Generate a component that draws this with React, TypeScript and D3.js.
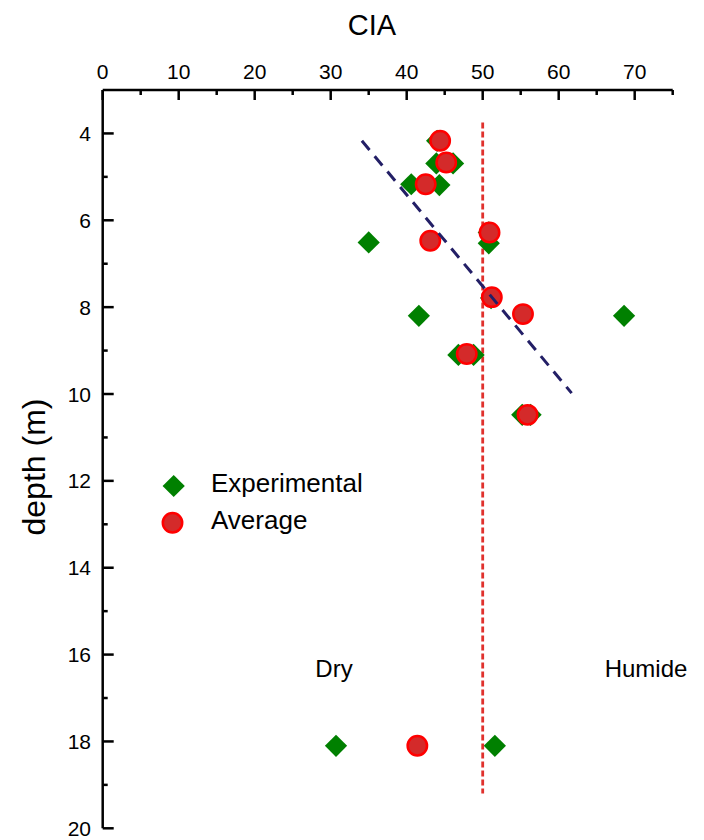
import React from "react";
import * as d3 from "d3";

const expCIA = [44.0, 43.9, 46.1, 40.6, 44.3, 35.0, 50.8, 50.8, 51.1, 41.6, 68.6, 46.8, 48.8, 55.2, 56.3, 30.7, 51.6];
const expDepth = [4.17, 4.69, 4.69, 5.17, 5.19, 6.51, 6.28, 6.53, 7.79, 8.2, 8.2, 9.1, 9.1, 10.48, 10.48, 18.1, 18.1];

const avgCIA = [44.4, 45.2, 42.5, 43.1, 50.9, 51.2, 55.3, 47.9, 55.9, 41.4];
const avgDepth = [4.17, 4.67, 5.17, 6.47, 6.28, 7.77, 8.16, 9.08, 10.48, 18.1];

const trendCIA = [34.1, 61.7];
const trendDepth = [4.17, 9.98];

const thresholdCIA = 50;
const thresholdDepth = [3.75, 19.2];

const xMajor = [0, 10, 20, 30, 40, 50, 60, 70];
const xMinor = [5, 15, 25, 35, 45, 55, 65, 75];
const yMajor = [4, 6, 8, 10, 12, 14, 16, 18, 20];
const yMinor = [5, 7, 9, 11, 13, 15, 17, 19];

const FONT = "'Liberation Sans', Arial, sans-serif";

export default function App() {
  const W = 704;
  const H = 840;
  const x = d3.scaleLinear().domain([0, 75]).range([102.7, 672.7]);
  const y = d3.scaleLinear().domain([3, 20]).range([90, 828.3]);

  const diamond = d3.symbol().type(d3.symbolDiamond2).size(315)();
  const line = d3
    .line<number>()
    .x((_, i) => x(trendCIA[i]))
    .y((_, i) => y(trendDepth[i]));

  const axisColor = "#000";
  const tickFont = 21;

  return (
    <svg
      width={W}
      height={H}
      style={{ position: "absolute", left: 0, top: 0, background: "#fff" }}
      fontFamily={FONT}
    >
      <rect x={0} y={0} width={W} height={H} fill="#fff" />
      {/* Title */}
      <text x={372} y={35} fontSize={29} textAnchor="middle" fill="#000">
        CIA
      </text>
      {/* Y label */}
      <text
        transform={`translate(45, 467) rotate(-90)`}
        fontSize={32}
        textAnchor="middle"
        fill="#000"
      >
        depth (m)
      </text>

      {/* top axis */}
      <line x1={x(0)} x2={x(75)} y1={y(3)} y2={y(3)} stroke={axisColor} strokeWidth={2.5} />
      {xMajor.map((v) => (
        <g key={"xm" + v}>
          <line x1={x(v)} x2={x(v)} y1={y(3)} y2={y(3) + 10} stroke={axisColor} strokeWidth={2.5} />
          <text x={x(v)} y={79} fontSize={tickFont} textAnchor="middle" fill="#000">
            {v}
          </text>
        </g>
      ))}
      {xMinor.map((v) => (
        <line key={"xn" + v} x1={x(v)} x2={x(v)} y1={y(3)} y2={y(3) + 5} stroke={axisColor} strokeWidth={2.5} />
      ))}

      {/* left axis */}
      <line x1={x(0)} x2={x(0)} y1={y(3)} y2={y(20)} stroke={axisColor} strokeWidth={2.5} />
      {yMajor.map((v) => (
        <g key={"ym" + v}>
          <line x1={x(0)} x2={x(0) + 11} y1={y(v)} y2={y(v)} stroke={axisColor} strokeWidth={2.5} />
          <text x={91} y={y(v)} dy="0.36em" fontSize={tickFont} textAnchor="end" fill="#000">
            {v}
          </text>
        </g>
      ))}
      {yMinor.map((v) => (
        <line key={"yn" + v} x1={x(0)} x2={x(0) + 5} y1={y(v)} y2={y(v)} stroke={axisColor} strokeWidth={2.5} />
      ))}

      {/* threshold line */}
      <line
        x1={x(thresholdCIA)}
        x2={x(thresholdCIA)}
        y1={y(thresholdDepth[0])}
        y2={y(thresholdDepth[1])}
        stroke="#e0312d"
        strokeWidth={2.8}
        strokeDasharray="6,3"
      />

      {/* experimental diamonds */}
      {expCIA.map((v, i) => (
        <path key={"e" + i} d={diamond || ""} transform={`translate(${x(v)},${y(expDepth[i])})`} fill="#008000" />
      ))}

      {/* averages */}
      {avgCIA.map((v, i) => (
        <circle key={"a" + i} cx={x(v)} cy={y(avgDepth[i])} r={9.7} fill="#d42a2a" stroke="#ff0000" strokeWidth={2.5} />
      ))}

      {/* trend line */}
      <path
        d={line([0, 1]) || ""}
        fill="none"
        stroke="#231f66"
        strokeWidth={3}
        strokeDasharray="12,8"
      />

      {/* legend */}
      <path d={diamond || ""} transform={`translate(173.7,486)`} fill="#008000" />
      <text x={211} y={492} fontSize={26} fill="#000">
        Experimental
      </text>
      <circle cx={172.5} cy={522.7} r={9.7} fill="#d42a2a" stroke="#ff0000" strokeWidth={2.5} />
      <text x={211} y={529} fontSize={26} fill="#000">
        Average
      </text>

      {/* annotations */}
      <text x={334} y={677} fontSize={24} textAnchor="middle" fill="#000">
        Dry
      </text>
      <text x={646} y={677} fontSize={24} textAnchor="middle" fill="#000">
        Humide
      </text>
    </svg>
  );
}
